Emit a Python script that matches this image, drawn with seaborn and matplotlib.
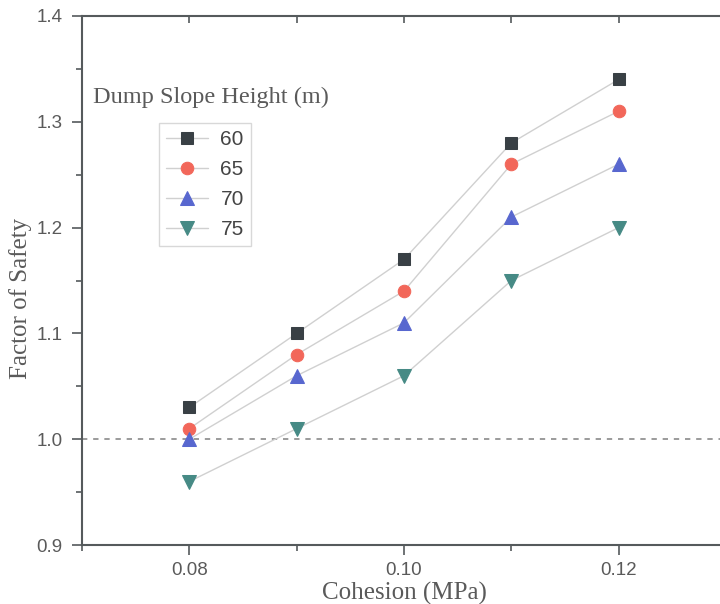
import matplotlib
matplotlib.use("Agg")
import matplotlib.pyplot as plt
from matplotlib.ticker import MultipleLocator, FormatStrFormatter
import seaborn as sns
import pandas as pd

# Data: factor of safety vs. cohesion for four dump slope heights
cohesion = [0.08, 0.09, 0.10, 0.11, 0.12]
heights = ["60", "65", "70", "75"]
fos_60 = [1.03, 1.10, 1.17, 1.28, 1.34]
fos_65 = [1.01, 1.08, 1.14, 1.26, 1.31]
fos_70 = [1.00, 1.06, 1.11, 1.21, 1.26]
fos_75 = [0.96, 1.01, 1.06, 1.15, 1.20]

series = [fos_60, fos_65, fos_70, fos_75]
marker_styles = ["s", "o", "^", "v"]
marker_sizes = [8, 9, 10, 10]
marker_colors = ["#394045", "#f2675a", "#5867cf", "#468a85"]

sns.set_style("ticks")
plt.rcParams["font.family"] = ["Liberation Sans", "DejaVu Sans"]

frames = []
for h, vals in zip(heights, series):
    frames.append(pd.DataFrame({"cohesion": cohesion, "fos": vals, "height": h}))
df = pd.concat(frames, ignore_index=True)

fig = plt.figure(figsize=(7.2, 6.04), dpi=100)
ax = fig.add_axes([82 / 720, 1 - 545 / 604, (726 - 82) / 720, (545 - 16) / 604])

axis_col = "#555a5c"
for h, m, ms, c in zip(heights, marker_styles, marker_sizes, marker_colors):
    sub = df[df["height"] == h]
    sns.lineplot(data=sub, x="cohesion", y="fos", ax=ax, color="#d0d0d0",
                 linewidth=1.0, marker=m, markersize=ms,
                 markerfacecolor=c, markeredgecolor=c, label=h)

# Critical factor of safety
ax.axhline(1.0, color="#8a8a8a", linewidth=1.2, linestyle=(0, (3.2, 3.5)), zorder=1)

ax.set_xlim(0.07, 0.13)
ax.set_ylim(0.9, 1.4)
ax.xaxis.set_major_locator(MultipleLocator(0.02))
ax.xaxis.set_minor_locator(MultipleLocator(0.01))
ax.xaxis.set_major_formatter(FormatStrFormatter("%.2f"))
ax.yaxis.set_major_locator(MultipleLocator(0.1))
ax.yaxis.set_minor_locator(MultipleLocator(0.05))
ax.yaxis.set_major_formatter(FormatStrFormatter("%.1f"))

ax.tick_params(which="major", direction="out", length=7, width=1.2,
               color=axis_col, labelsize=13.5, labelcolor="#5a5a5a", pad=5)
ax.tick_params(which="minor", direction="out", length=4, width=1.2, color=axis_col)
ax.tick_params(axis="y", which="major", pad=7)

top = ax.secondary_xaxis("top")
top.set_xticks(cohesion)
top.tick_params(direction="in", length=5, width=1.2, color=axis_col, labeltop=False)
top.spines["top"].set_visible(False)

for s in ["left", "bottom", "top", "right"]:
    ax.spines[s].set_color(axis_col)
    ax.spines[s].set_linewidth(1.5)

ax.set_xlabel("Cohesion (MPa)", family=["Liberation Serif"], fontsize=18,
              color="#5a5a5a", labelpad=2)
ax.set_ylabel("Factor of Safety", family=["Liberation Serif"], fontsize=18,
              color="#5a5a5a")
ax.yaxis.set_label_coords(-0.078, 0.467)

fig.text(93 / 720, 1 - 97 / 604, "Dump Slope Height (m)", family=["Liberation Serif"],
         fontsize=17.5, color="#5a5a5a", ha="left", va="center")

leg = ax.legend(loc="upper left", bbox_to_anchor=(159 / 720, 1 - 123 / 604),
                bbox_transform=fig.transFigure, fontsize=15, frameon=True,
                fancybox=False, handlelength=2.0, handletextpad=0.6,
                labelspacing=0.52, borderpad=0.35, borderaxespad=0)
leg.get_frame().set_edgecolor("#cfcfcf")
leg.get_frame().set_linewidth(1.0)
for t in leg.get_texts():
    t.set_color("#444444")

fig.savefig("out.png", dpi=100)
